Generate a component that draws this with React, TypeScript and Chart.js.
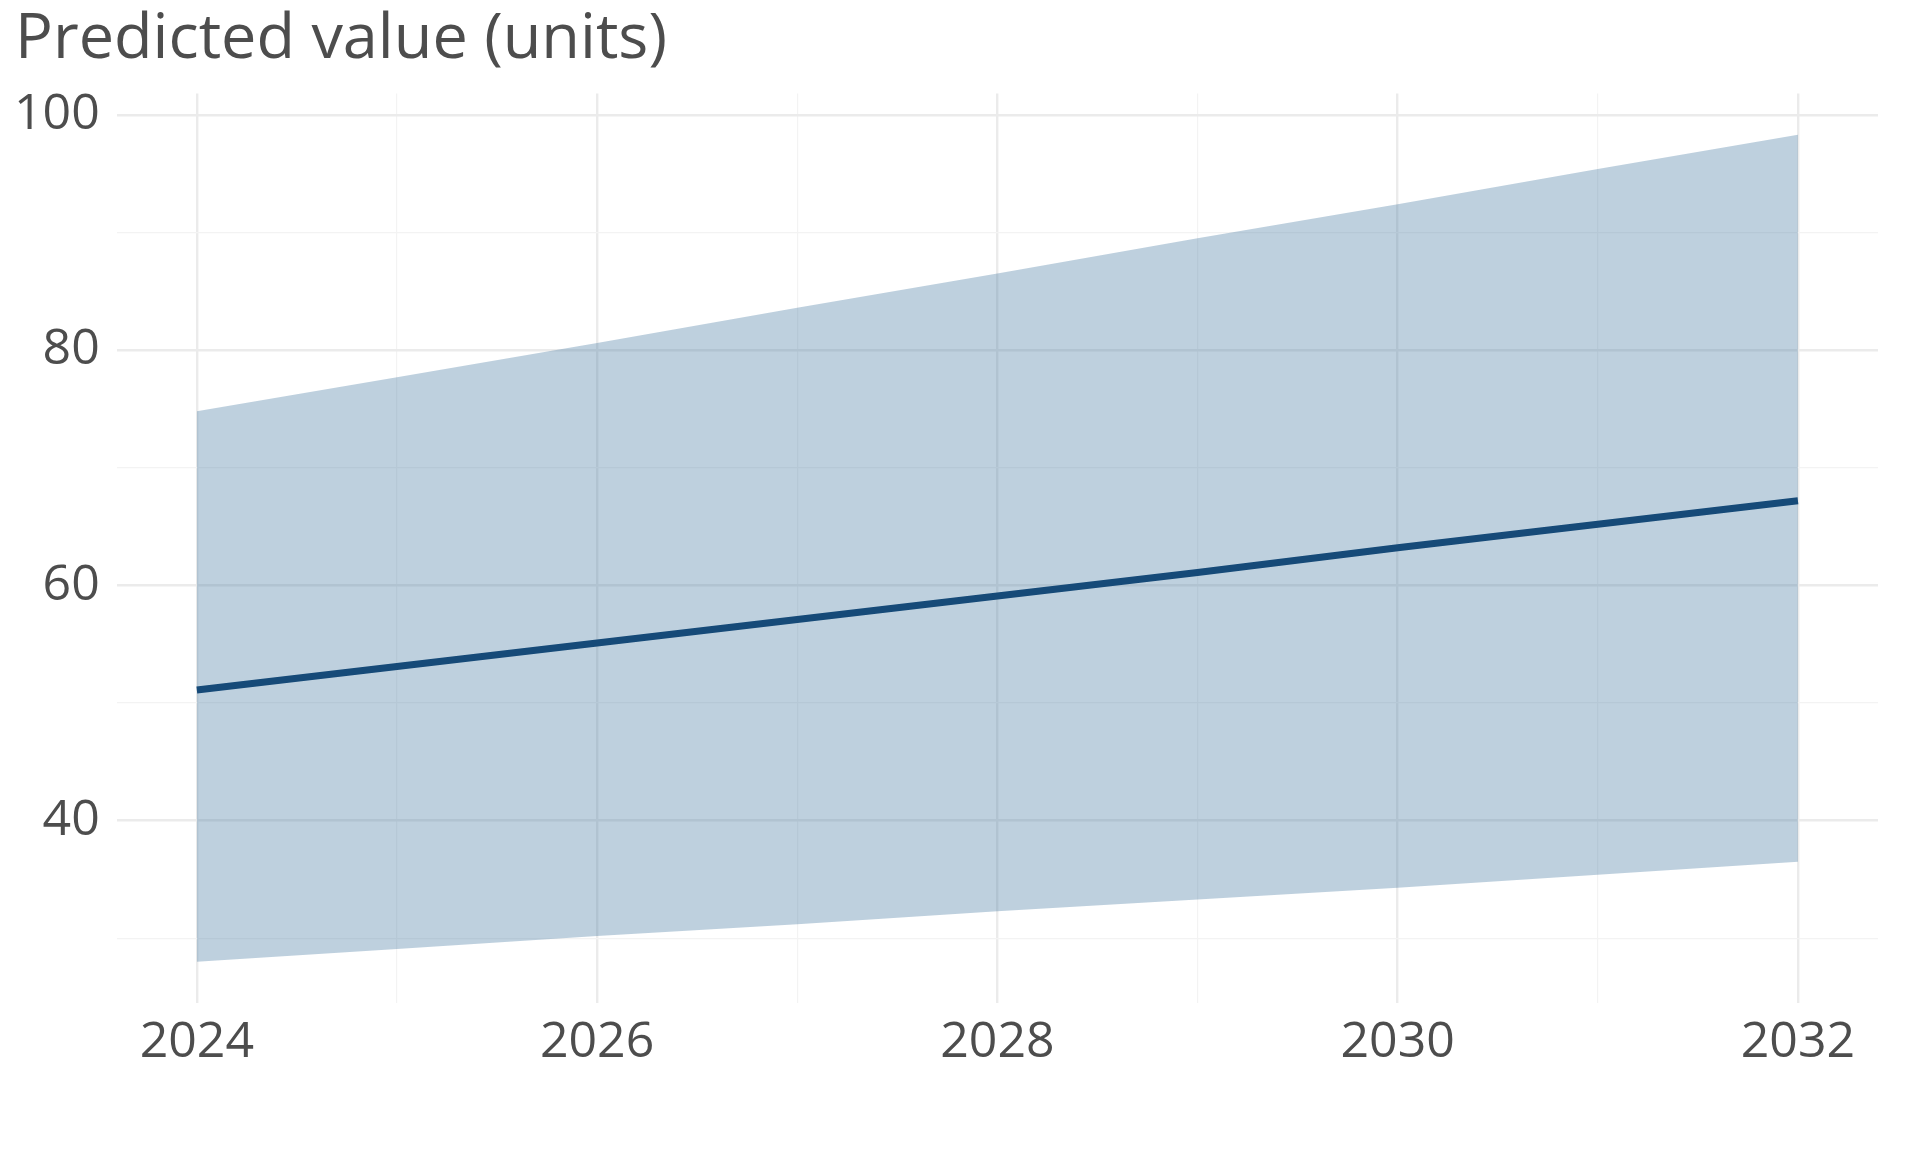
import { useEffect, useRef } from "react"
import { Chart, registerables } from "chart.js"

Chart.register(...registerables)

const years = [2024, 2025, 2026, 2027, 2028, 2029, 2030, 2031, 2032]
const predicted = [51.1, 53.1, 55.1, 57.1, 59.1, 61.1, 63.2, 65.2, 67.2]
const upperBound = [74.8, 77.7, 80.6, 83.6, 86.5, 89.5, 92.4, 95.4, 98.3]
const lowerBound = [28.0, 29.1, 30.2, 31.2, 32.3, 33.3, 34.3, 35.4, 36.5]
const yTicks = [30, 40, 50, 60, 70, 80, 90, 100]
const yLabelled = [40, 60, 80, 100]
const xLabelled = [2024, 2026, 2028, 2030, 2032]

const FONT = "'Open Sans', 'Noto Sans', sans-serif"
const TEXT = "#4d4d4d"

const toPoints = (vals: number[]) => vals.map((y, i) => ({ x: years[i], y }))

export default function App() {
  const chartRef = useRef<HTMLCanvasElement>(null)
  const chartInstance = useRef<Chart | null>(null)

  useEffect(() => {
    document.body.style.margin = "0"
    if (!chartRef.current) return
    const ctx = chartRef.current.getContext("2d")
    if (!ctx) return

    if (chartInstance.current) {
      chartInstance.current.destroy()
    }

    chartInstance.current = new Chart(ctx, {
      type: "line",
      data: {
        datasets: [
          {
            label: "Predicted",
            data: toPoints(predicted),
            borderColor: "#164a78",
            borderWidth: 7,
            pointRadius: 0,
            fill: false,
            tension: 0,
          },
          {
            label: "Upper",
            data: toPoints(upperBound),
            borderWidth: 0,
            borderColor: "rgba(0,0,0,0)",
            backgroundColor: "rgba(69, 121, 161, 0.35)",
            pointRadius: 0,
            fill: "+1",
          },
          {
            label: "Lower",
            data: toPoints(lowerBound),
            borderWidth: 0,
            borderColor: "rgba(0,0,0,0)",
            pointRadius: 0,
            fill: false,
          },
        ],
      },
      options: {
        animation: false,
        responsive: true,
        maintainAspectRatio: false,
        layout: {
          padding: { left: 15, right: 42, top: 2, bottom: 69 },
        },
        plugins: {
          legend: { display: false },
          tooltip: { enabled: false },
          title: {
            display: true,
            text: "Predicted value (units)",
            align: "start",
            color: TEXT,
            font: { family: FONT, size: 63, weight: "normal" },
            padding: { top: 0, bottom: 16 },
          },
        },
        scales: {
          x: {
            type: "linear",
            min: 2023.6,
            max: 2032.4,
            afterBuildTicks: (scale) => {
              scale.ticks = years.map((v) => ({ value: v }))
            },
            border: { display: false },
            grid: {
              color: (c) => (xLabelled.includes(c.tick?.value) ? "#ebebeb" : "#f3f3f3"),
              lineWidth: (c) => (xLabelled.includes(c.tick?.value) ? 2.4 : 1.2),
              drawTicks: false,
            },
            ticks: {
              autoSkip: false,
              maxRotation: 0,
              padding: 10,
              color: TEXT,
              font: { family: FONT, size: 50 },
              callback: (v) => (xLabelled.includes(Number(v)) ? String(v) : ""),
            },
          },
          y: {
            type: "linear",
            min: 24.5,
            max: 101.8,
            afterBuildTicks: (scale) => {
              scale.ticks = yTicks.map((v) => ({ value: v }))
            },
            // keep the labels where they are while the title sits further right
            afterFit: (scale) => {
              scale.width -= 18
            },
            border: { display: false },
            grid: {
              color: (c) => (yLabelled.includes(c.tick?.value) ? "#ebebeb" : "#f3f3f3"),
              lineWidth: (c) => (yLabelled.includes(c.tick?.value) ? 2.4 : 1.2),
              drawTicks: false,
            },
            ticks: {
              autoSkip: false,
              padding: 17,
              color: TEXT,
              font: { family: FONT, size: 50 },
              callback: (v) => (yLabelled.includes(Number(v)) ? String(v) : ""),
            },
          },
        },
      },
    })

    return () => {
      if (chartInstance.current) {
        chartInstance.current.destroy()
        chartInstance.current = null
      }
    }
  }, [])

  return (
    <div style={{ width: 1920, height: 1152 }}>
      <canvas ref={chartRef} />
    </div>
  )
}
